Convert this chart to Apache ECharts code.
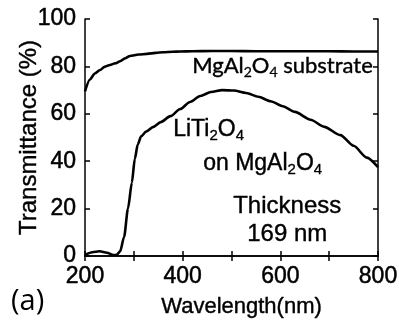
<!DOCTYPE html>
<html>
<head>
<meta charset="utf-8">
<script src="https://cdn.jsdelivr.net/npm/echarts@6/dist/echarts.min.js"></script>
<style>
  html, body { margin: 0; padding: 0; background: #fff; }
  #main { width: 399px; height: 322px; }
</style>
</head>
<body>
<div id="main"></div>
<script>
  // substrate curve
  let subWave = [200, 210, 220, 231, 240, 251, 262, 272, 282, 292, 310, 327, 345, 360, 380, 395, 420, 460, 500, 550, 600, 650, 700, 750, 800]
  let subTrans = [69.5, 74.5, 77, 78.5, 79.8, 80.6, 81.3, 82.2, 83.4, 84.4, 85, 85.3, 85.7, 86, 86.2, 86.3, 86.4, 86.5, 86.5, 86.4, 86.4, 86.4, 86.4, 86.3, 86.3]
  // LiTi2O4 film curve
  let filmWave = [200, 215, 230, 245, 258, 265, 272, 280, 288, 296, 302, 308, 315, 325, 340, 355, 375, 395, 415, 436, 458, 481, 505, 530, 555, 580, 605, 630, 662, 690, 723, 750, 777, 800]
  let filmTrans = [0.5, 1.6, 2, 1.4, 0.4, 0.5, 2, 8, 20, 31, 41, 47, 50.5, 52.5, 54.5, 56.5, 59, 62, 65, 67.5, 69.2, 70, 69.8, 68.8, 67.2, 65.3, 63.2, 60.8, 57.5, 54.5, 51, 46.5, 41.5, 37.5]
  let xTicks = [200, 400, 600, 800]
  let yTicks = [0, 20, 40, 60, 80, 100]

  function zip(xs, ys) {
    return xs.map(function (x, i) { return [x, ys[i]] })
  }

  let myChart = echarts.init(document.getElementById('main'))
  // scanned figure: text looks heavy, so thicken it a little with a border
  let axisFont = {fontFamily: 'Liberation Sans', fontSize: 23, color: '#000', textBorderColor: '#000', textBorderWidth: 0.5}
  let lineStyle = {color: '#000', width: 1.5}
  let subRich = function (size, fam) {
    return {
      a: {fontFamily: fam, fontSize: size, fill: '#000', stroke: '#000', lineWidth: 0.4},
      s: {fontFamily: fam, fontSize: Math.round(size * 0.65), fill: '#000', stroke: '#000', lineWidth: 0.3, padding: [Math.round(size * 0.55), 0, 0, 0]}
    }
  }

  let option = {
    animation: false,
    grid: {left: 85, right: 21, top: 19, bottom: 66, outerBoundsMode: 'none', containLabel: false},
    xAxis: [{
      type: 'value', min: 200, max: 800, interval: 100,
      axisLine: {lineStyle: lineStyle},
      axisTick: {inside: true, length: 5, lineStyle: lineStyle},
      splitLine: {show: false},
      axisLabel: Object.assign({
        margin: 9,
        formatter: function (v) { return xTicks.indexOf(v) >= 0 ? v : '' }
      }, axisFont),
      name: 'Wavelength(nm)', nameLocation: 'middle', nameGap: 40, nameMoveOverlap: false,
      nameTextStyle: {fontFamily: 'Liberation Sans', fontSize: 22, color: '#000', textBorderColor: '#000', textBorderWidth: 0.4, padding: [0, 0, 0, 20]}
    }, {
      type: 'value', min: 200, max: 800, interval: 100, position: 'top',
      axisLine: {lineStyle: lineStyle},
      axisTick: {inside: true, length: 5, lineStyle: lineStyle},
      axisLabel: {show: false}, splitLine: {show: false}
    }],
    yAxis: [{
      type: 'value', min: 0, max: 100, interval: 20,
      axisLine: {lineStyle: lineStyle},
      axisTick: {inside: true, length: 5, lineStyle: lineStyle},
      splitLine: {show: false},
      axisLabel: Object.assign({
        margin: 9,
        formatter: function (v) { return yTicks.indexOf(v) >= 0 ? v : '' }
      }, axisFont),
      name: 'Transmittance (%)', nameLocation: 'middle', nameGap: 44, nameMoveOverlap: false,
      nameTextStyle: {fontFamily: 'Liberation Sans', fontSize: 24, color: '#000', textBorderColor: '#000', textBorderWidth: 0.4}
    }, {
      type: 'value', min: 0, max: 100, interval: 20, position: 'right',
      axisLine: {lineStyle: lineStyle},
      axisTick: {inside: true, length: 5, lineStyle: lineStyle},
      axisLabel: {show: false}, splitLine: {show: false}
    }],
    series: [{
      name: 'MgAl2O4 substrate',
      type: 'line', smooth: 0.25, smoothMonotone: 'x', showSymbol: false,
      lineStyle: {color: '#000', width: 2.6},
      data: zip(subWave, subTrans)
    }, {
      name: 'LiTi2O4 on MgAl2O4',
      type: 'line', smooth: 0.25, smoothMonotone: 'x', showSymbol: false,
      lineStyle: {color: '#000', width: 2.6},
      data: zip(filmWave, filmTrans)
    }],
    graphic: [{
      type: 'text', left: 192, top: 55,
      style: {text: '{a|MgAl}{s|2}{a|O}{s|4}{a| substrate}', fontFamily: 'Lato', rich: subRich(22, 'Lato')}
    }, {
      type: 'text', left: 173, top: 118,
      style: {text: '{a|LiTi}{s|2}{a|O}{s|4}', fontFamily: 'Liberation Sans', rich: subRich(23, 'Liberation Sans')}
    }, {
      type: 'text', left: 203, top: 152,
      style: {text: '{a|on MgAl}{s|2}{a|O}{s|4}', fontFamily: 'Liberation Sans', rich: subRich(23, 'Liberation Sans')}
    }, {
      type: 'text', left: 233, top: 194,
      style: {text: 'Thickness', fontFamily: 'Liberation Sans', fontSize: 24, fill: '#000', stroke: '#000', lineWidth: 0.4}
    }, {
      type: 'text', left: 247, top: 222,
      style: {text: '169 nm', fontFamily: 'Liberation Sans', fontSize: 24, fill: '#000', stroke: '#000', lineWidth: 0.4}
    }, {
      type: 'text', left: 11, top: 287,
      style: {text: '(a)', fontFamily: 'Open Sans', fontSize: 29, fill: '#000'}
    }]
  }

  myChart.setOption(option)
</script>
</body>
</html>
